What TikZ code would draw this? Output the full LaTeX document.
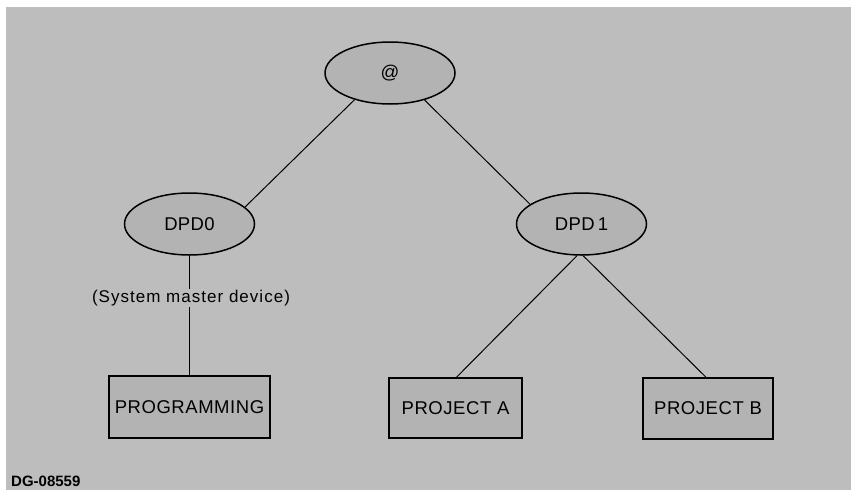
\documentclass[tikz,border=0pt]{standalone}
\usepackage{fontspec}
\setmainfont{Liberation Sans}
\usetikzlibrary{shapes.geometric}
\definecolor{paper}{HTML}{BDBDBD}
\definecolor{shade}{HTML}{B3B3B3}
\tikzset{
  dirnode/.style={ellipse, draw=black, line width=1.5pt, fill=shade,
    minimum width=130pt, minimum height=62pt, inner sep=0pt,
    font=\fontsize{18.5}{20}\selectfont\addfontfeatures{LetterSpace=2}},
  filebox/.style={rectangle, draw=black, line width=1.5pt, fill=shade,
    inner sep=0pt, font=\fontsize{18.5}{20}\selectfont\addfontfeatures{LetterSpace=3}},
  link/.style={draw=black, line width=1pt},
  note/.style={inner sep=1pt, font=\fontsize{17}{18}\selectfont\addfontfeatures{LetterSpace=6}}
}
\begin{document}
\begin{tikzpicture}[x=1pt, y=-1pt]
  \useasboundingbox (0,0) rectangle (851,490);
  \fill[white] (0,0) rectangle (851,490);
  \fill[paper] (6,7) rectangle (851,490);

  % directory nodes
  \node[dirnode] (root) at (390,73) {@};
  \node[dirnode] (dpd0) at (189.5,224) {DPD0};
  \node[dirnode] (dpd1) at (581.5,224) {DPD\,1};

  % leaf directories
  \node[filebox, minimum width=161pt, minimum height=62pt] (prog) at (189.5,407) {PROGRAMMING};
  \node[filebox, minimum width=133pt, minimum height=60pt] (pa) at (455.5,408) {PROJECT A};
  \node[filebox, minimum width=130pt, minimum height=61pt] (pb) at (708,408.5) {PROJECT B};

  % annotation on the DPD0 branch
  \node[note] (master) at (191,298) {(System master device)};

  % tree links
  \draw[link] (root.217.7) -- (dpd0.17);
  \draw[link] (root.322.3) -- (dpd1.159.8);
  \draw[link] (dpd0.south) -- (master.north -| dpd0.south);
  \draw[link] (master.south -| prog.north) -- (prog.north);
  \draw[link] (dpd1.262) -- ([xshift=1pt]pa.north);
  \draw[link] (dpd1.273) -- ([xshift=-2pt]pb.north);

  % figure number
  \node[anchor=base west, inner sep=0pt, font=\bfseries\fontsize{15}{16}\selectfont] (fig) at (11,486) {DG-08559};
\end{tikzpicture}
\end{document}
